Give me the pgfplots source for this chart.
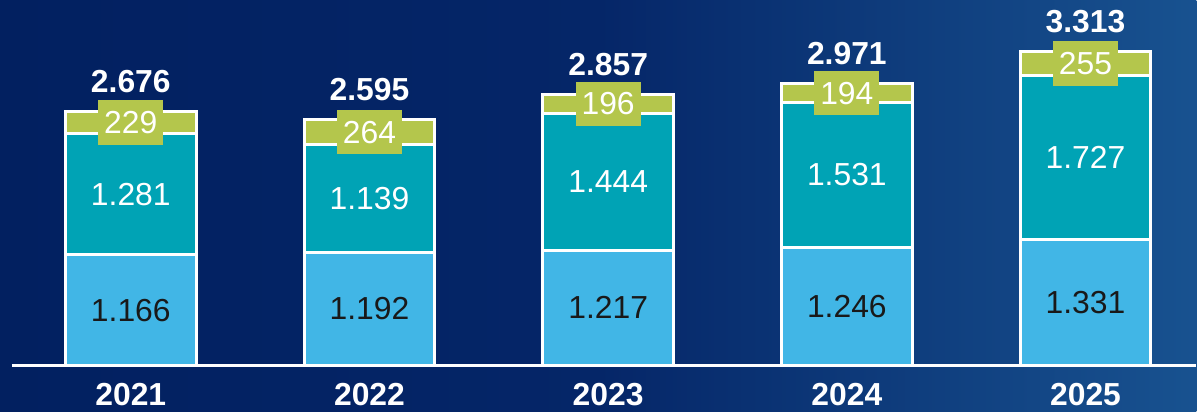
\documentclass[border=0pt]{standalone}
\usepackage{fontspec}
\setmainfont{Liberation Sans}
\usepackage{pgfplots}
\pgfplotsset{compat=1.18}
\usepackage{pgfplotstable}
\definecolor{bgL}{RGB}{2,32,96}
\definecolor{bgM}{RGB}{5,38,104}
\definecolor{bgR}{RGB}{24,82,144}
\definecolor{cLight}{RGB}{65,182,230}
\definecolor{cTeal}{RGB}{0,163,181}
\definecolor{cGreen}{RGB}{180,198,76}
\pgfplotstableread{
x a b c total la lb lc lt
0 1166 1281 229 2676 1.166 1.281 229 2.676
1 1192 1139 264 2595 1.192 1.139 264 2.595
2 1217 1444 196 2857 1.217 1.444 196 2.857
3 1246 1531 194 2971 1.246 1.531 194 2.971
4 1331 1727 255 3313 1.331 1.727 255 3.313
}\data
\pgfplotsset{
  base/.style={
    scale only axis, width=1198bp, height=412bp,
    at={(0,0)}, anchor=south west,
    xmin=-0.548, xmax=4.464, ymin=-484.7, ymax=3856.7,
    enlargelimits=false, clip=false,
    axis line style={draw=none}, tick style={draw=none},
    ytick=\empty,
  }
}
\begin{document}
\begin{tikzpicture}
\shade[left color=bgL, right color=bgR, middle color=bgM] (0,0) rectangle (1198bp,412bp);
\begin{axis}[base,
  ybar stacked, bar width=131bp,
  xtick={0,1,2,3,4},
  xticklabels={{\textbf{2021}},{\textbf{2022}},{\textbf{2023}},{\textbf{2024}},{\textbf{2025}}},
  xticklabel style={text=white, font=\fontsize{32}{36}\selectfont, anchor=center, yshift=17bp},
]
\addplot[fill=cLight, draw=white, line width=3bp] table[x=x, y=a] {\data};
\addplot[fill=cTeal, draw=white, line width=3bp] table[x=x, y=b] {\data};
\addplot[fill=cGreen, draw=white, line width=3bp] table[x=x, y=c] {\data};
\draw[white, line width=3.5bp] (axis cs:-0.498,0) -- (axis cs:4.464,0);
\end{axis}
\begin{axis}[base, xtick=\empty]
\addplot[draw=none, mark=none, nodes near coords, point meta=explicit symbolic,
  nodes near coords align=center,
  every node near coord/.append style={anchor=center, text=black!90, font=\fontsize{32}{36}\selectfont}]
  table[x=x, y expr=\thisrow{a}/2, meta=la] {\data};
\addplot[draw=none, mark=none, nodes near coords, point meta=explicit symbolic,
  nodes near coords align=center,
  every node near coord/.append style={anchor=center, text=white, font=\fontsize{32}{36}\selectfont}]
  table[x=x, y expr=\thisrow{a}+\thisrow{b}/2, meta=lb] {\data};
\addplot[draw=none, mark=none, nodes near coords, point meta=explicit symbolic,
  nodes near coords align=center,
  every node near coord/.append style={anchor=center, text=white, fill=cGreen, inner xsep=6bp, inner ysep=11bp, font=\fontsize{32}{36}\selectfont}]
  table[x=x, y expr=\thisrow{a}+\thisrow{b}+\thisrow{c}/2, meta=lc] {\data};
\addplot[draw=none, mark=none, nodes near coords, point meta=explicit symbolic,
  nodes near coords align=center,
  every node near coord/.append style={anchor=center, yshift=30bp, text=white, font=\bfseries\fontsize{32}{36}\selectfont}]
  table[x=x, y=total, meta=lt] {\data};
\end{axis}
\end{tikzpicture}
\end{document}
